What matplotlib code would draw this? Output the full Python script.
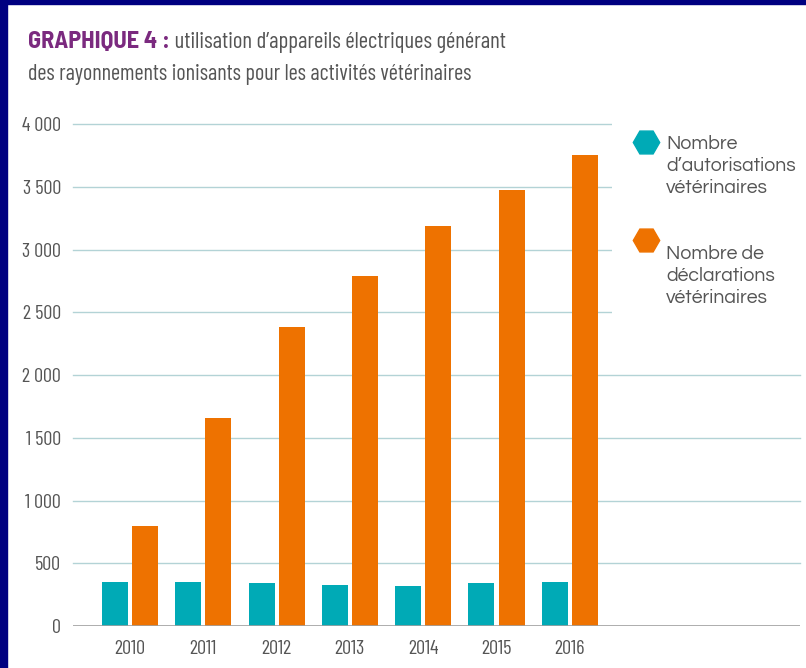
import matplotlib.pyplot as plt
from matplotlib.patches import Rectangle
from matplotlib.lines import Line2D
import numpy as np

# data
annees = ['2010', '2011', '2012', '2013', '2014', '2015', '2016']
autorisations = [350, 350, 343, 325, 319, 345, 353]
declarations = [797, 1656, 2384, 2793, 3190, 3477, 3753]
yticks = [0, 500, 1000, 1500, 2000, 2500, 3000, 3500, 4000]
ytick_labels = ['0', '500', '1 000', '1 500', '2 000', '2 500', '3 000', '3 500', '4 000']
leg_autor = ['Nombre', 'd\u2019autorisations', 'vétérinaires']
leg_decl = ['Nombre de', 'déclarations', 'vétérinaires']

teal = '#00aab6'
orange = '#ee7200'
grey_txt = '#555555'
narrow = ['Barlow Condensed', 'Roboto Condensed', 'DejaVu Sans']
narrow_bold = ['Barlow Semi Condensed', 'Barlow Condensed', 'DejaVu Sans']
round_font = ['Questrial', 'Poppins', 'Jost', 'Lato', 'DejaVu Sans']

W, H = 806, 668
fig = plt.figure(figsize=(W / 100, H / 100), dpi=100)
fig.patch.set_facecolor('white')


def fx(px):
    return px / W


def fy(py):
    return 1 - py / H


# dark blue frame (left + top)
fig.patches.append(Rectangle((0, 0), 7 / W, 1, transform=fig.transFigure, color='#000080', zorder=0))
fig.patches.append(Rectangle((0, 1 - 4 / H), 1, 4 / H, transform=fig.transFigure, color='#000080', zorder=0))

ax = fig.add_axes([73 / W, 42 / H, 727 / W, 501.6 / H])
x = np.arange(len(annees))
w = 0.355
off = 0.205
ax.bar(x - off, autorisations, width=w, color=teal, zorder=3)
ax.bar(x + off, declarations, width=w, color=orange, zorder=3)

ax.set_xlim((73 - 130) / 73.3, (800 - 130) / 73.3)
ax.set_ylim(0, 4000)
for t in yticks[1:]:
    ax.axhline(t, color='#b3d3d6', lw=1, zorder=1, clip_on=False)
ax.axhline(0, color='#a0a0a0', lw=1.2, zorder=4)

for s in ax.spines.values():
    s.set_visible(False)
ax.set_yticks(yticks)
ax.set_yticklabels(ytick_labels, family=narrow, fontsize=14.5, color=grey_txt)
ax.set_xticks(x)
ax.set_xticklabels(annees, family=narrow, fontsize=14.5, color=grey_txt)
ax.tick_params(length=0)
ax.tick_params(axis='y', pad=8.5)
ax.tick_params(axis='x', pad=10)

# white area behind legend (hides the upper gridlines there)
ax.add_patch(Rectangle((fx(612), fy(335)), (W - 612) / W, 225 / H, transform=fig.transFigure,
                       facecolor='white', edgecolor='none', zorder=2, clip_on=False))

# legend
fig.add_artist(Line2D([fx(646)], [fy(142)], marker='H', markersize=19, color=teal, lw=0))
fig.add_artist(Line2D([fx(646)], [fy(240)], marker='H', markersize=19, color=orange, lw=0))
for i, s in enumerate(leg_autor):
    fig.text(fx(666), fy(149 + 22 * i), s, family=round_font, fontsize=14,
             color=grey_txt, va='baseline', ha='left')
for i, s in enumerate(leg_decl):
    fig.text(fx(666), fy(259 + 22 * i), s, family=round_font, fontsize=14,
             color=grey_txt, va='baseline', ha='left')

# title
t1 = fig.text(fx(28), fy(48), 'GRAPHIQUE 4 :', family=narrow_bold, fontsize=17.5, fontweight='bold',
              color='#7b2a7f', va='baseline', ha='left')
ax.annotate(' utilisation d\u2019appareils électriques générant', xy=(1, 0), xycoords=t1,
            va='bottom', ha='left', family=narrow, fontsize=16.5, color=grey_txt)
fig.text(fx(28), fy(80), 'des rayonnements ionisants pour les activités vétérinaires', family=narrow,
         fontsize=16, color=grey_txt, va='baseline', ha='left')

fig.savefig('out.png', dpi=100)
